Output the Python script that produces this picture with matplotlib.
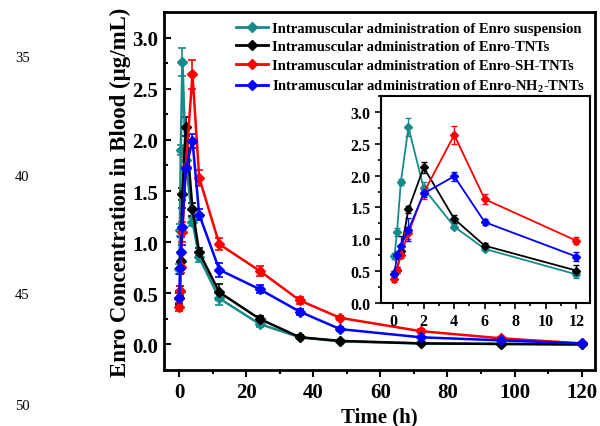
import matplotlib
matplotlib.use("Agg")
import matplotlib.pyplot as plt
from matplotlib.lines import Line2D
from matplotlib.ticker import MultipleLocator

plt.rcParams['font.family'] = ['Liberation Serif', 'DejaVu Serif']
plt.rcParams['font.weight'] = 'bold'
plt.rcParams['mathtext.fontset'] = 'custom'
plt.rcParams['mathtext.rm'] = 'Liberation Serif:bold'

# sampling times (h)
times = [0.083, 0.25, 0.5, 1, 2, 4, 6, 12, 24, 36, 48, 72, 96, 120]

# mean concentrations (ug/mL) and errors
susp = [0.74, 1.12, 1.90, 2.76, 1.80, 1.20, 0.85, 0.45, 0.20, 0.07, 0.03, 0.01, 0.005, 0.0]
susp_err = [0.05, 0.06, 0.05, 0.14, 0.10, 0.04, 0.04, 0.06, 0.03, 0.02, 0.01, 0.01, 0.01, 0.01]
tnt = [0.45, 0.52, 0.82, 1.47, 2.13, 1.32, 0.90, 0.51, 0.25, 0.07, 0.035, 0.01, 0.005, 0.0]
tnt_err = [0.06, 0.05, 0.06, 0.06, 0.09, 0.06, 0.04, 0.08, 0.03, 0.02, 0.01, 0.01, 0.01, 0.01]
sh = [0.37, 0.52, 0.76, 1.10, 1.73, 2.64, 1.63, 0.98, 0.72, 0.43, 0.26, 0.13, 0.06, 0.01]
sh_err = [0.04, 0.05, 0.06, 0.10, 0.10, 0.14, 0.08, 0.06, 0.05, 0.03, 0.02, 0.02, 0.01, 0.01]
nh2 = [0.45, 0.75, 0.90, 1.15, 1.72, 1.99, 1.27, 0.73, 0.54, 0.32, 0.15, 0.07, 0.04, 0.01]
nh2_err = [0.05, 0.06, 0.15, 0.18, 0.06, 0.07, 0.05, 0.07, 0.04, 0.03, 0.02, 0.01, 0.01, 0.01]

labels = ["Intramuscular administration of Enro suspension",
          "Intramuscular administration of Enro-TNTs",
          "Intramuscular administration of Enro-SH-TNTs",
          "Intramuscular administration of Enro-NH$_2$-TNTs"]
colors = ['#178a8a', 'black', '#ff0000', '#0000ff']
series = [(susp, susp_err), (tnt, tnt_err), (sh, sh_err), (nh2, nh2_err)]

fig = plt.figure(figsize=(6, 4.27), dpi=100)
ax = fig.add_axes([0.2733, 0.1311, 0.7184, 0.8385])

for (vals, errs), col in zip(series, colors):
    ax.errorbar(times, vals, yerr=errs, color=col, marker='D', markersize=5,
                lw=1.8, elinewidth=1.2, capsize=3, capthick=1.2)

ax.set_xlim(-4.5, 124)
ax.set_ylim(-0.25, 3.25)
ax.xaxis.set_major_locator(MultipleLocator(20))
ax.xaxis.set_minor_locator(MultipleLocator(10))
ax.yaxis.set_major_locator(MultipleLocator(0.5))
ax.yaxis.set_minor_locator(MultipleLocator(0.25))
ax.tick_params(axis='x', which='both', direction='out', labelsize=15, width=1.5)
ax.tick_params(axis='x', which='major', length=5)
ax.tick_params(axis='x', which='minor', length=3)
ax.tick_params(axis='y', which='both', direction='in', labelsize=15, width=1.5)
ax.tick_params(axis='y', which='major', length=5, pad=4)
ax.tick_params(axis='y', which='minor', length=3)
for lbl in ax.get_xticklabels() + ax.get_yticklabels():
    lbl.set_fontweight('bold')
for sp in ax.spines.values():
    sp.set_linewidth(2)
ax.set_xlabel("Time (h)", fontsize=15, fontweight='bold', labelpad=3)
ax.set_ylabel("Enro Concentration in Blood (\u03bcg/mL)", fontsize=16.5,
              fontweight='bold', labelpad=1)

handles = [Line2D([], [], color=c, marker='D', markersize=5, lw=2) for c in colors]
leg = ax.legend(handles, labels, loc='upper right', bbox_to_anchor=(1.0, 1.0),
                frameon=False, fontsize=10.5, handlelength=2.2, handletextpad=0.3,
                labelspacing=0.38, borderaxespad=0.25)
for t in leg.get_texts():
    t.set_fontweight('bold')

# inset: first 12 h
ins = fig.add_axes([0.635, 0.288, 0.3483, 0.4848])
for (vals, errs), col in zip(series, colors):
    ins.errorbar(times[:8], vals[:8], yerr=errs[:8], color=col, marker='D',
                 markersize=4.5, lw=1.3, elinewidth=1.0, capsize=2.5, capthick=1.0)
ins.set_xlim(-0.8, 12.9)
ins.set_ylim(0, 3.25)
ins.xaxis.set_major_locator(MultipleLocator(2))
ins.xaxis.set_minor_locator(MultipleLocator(1))
ins.yaxis.set_major_locator(MultipleLocator(0.5))
ins.yaxis.set_minor_locator(MultipleLocator(0.25))
ins.tick_params(which='both', direction='out', labelsize=11.5, width=1.2)
ins.tick_params(which='major', length=4)
ins.tick_params(which='minor', length=2)
for lbl in ins.get_xticklabels() + ins.get_yticklabels():
    lbl.set_fontweight('bold')
for sp in ins.spines.values():
    sp.set_linewidth(1.5)

# document line numbers in margin
for num, ypos in [("35", 0.864), ("40", 0.585), ("45", 0.309), ("50", 0.047)]:
    fig.text(0.025, ypos, num, fontsize=10.5, fontweight='normal', va='center')

fig.savefig("out.png", dpi=100)
